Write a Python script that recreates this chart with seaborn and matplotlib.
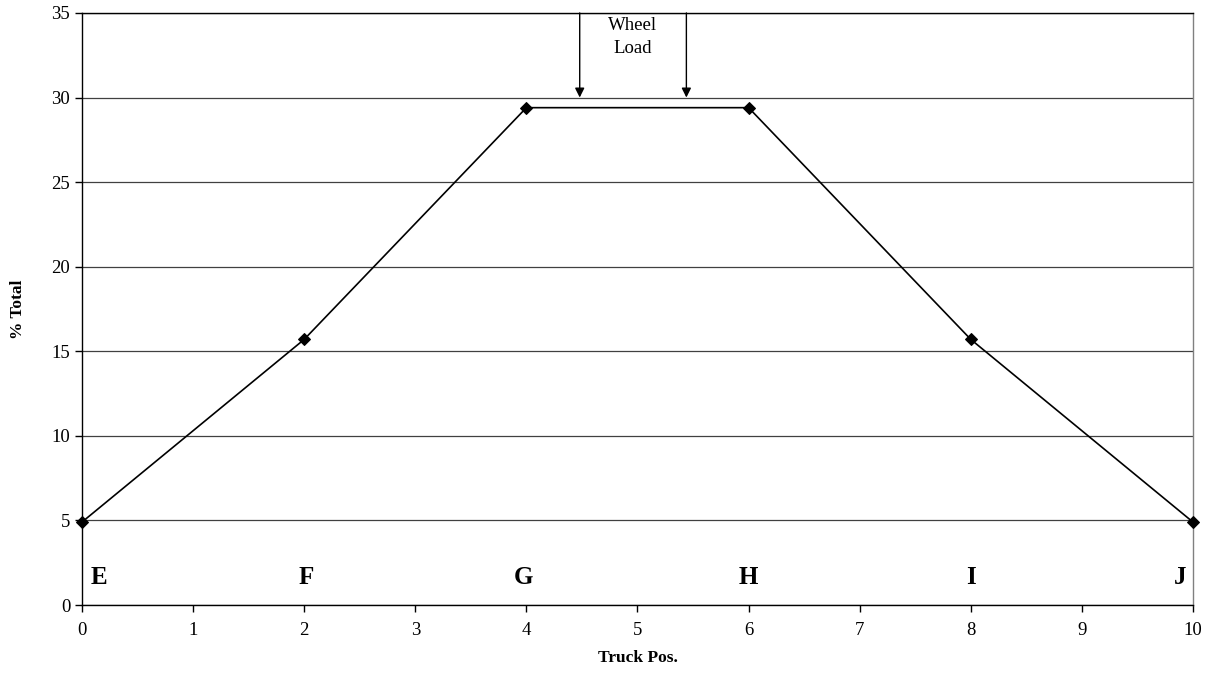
import matplotlib
matplotlib.use("Agg")
import matplotlib.pyplot as plt
import seaborn as sns
import pandas as pd

positions = [0, 2, 4, 6, 8, 10]
pct_total = [4.9, 15.7, 29.4, 29.4, 15.7, 4.9]
labels = ["E", "F", "G", "H", "I", "J"]
label_x = [0.15, 2.02, 3.97, 6.0, 8.0, 9.88]
label_y = 1.65
arrow_x = [4.48, 5.44]

sns.set_style("white")
plt.rcParams['font.family'] = ['Liberation Serif', 'DejaVu Serif']
plt.rcParams['text.color'] = 'black'
plt.rcParams['axes.labelcolor'] = 'black'
plt.rcParams['xtick.color'] = 'black'
plt.rcParams['ytick.color'] = 'black'

df = pd.DataFrame({"Truck Pos.": positions, "% Total": pct_total})

fig = plt.figure(figsize=(12.25, 6.81), dpi=100)
ax = fig.add_axes([0.0669, 0.1116, 0.907, 0.8694])

sns.lineplot(data=df, x="Truck Pos.", y="% Total", ax=ax, color="black",
             marker="D", markersize=6.5, markeredgecolor="black", linewidth=1.2,
             clip_on=False, zorder=5)

ax.set_xlim(0, 10)
ax.set_ylim(0, 35)
ax.set_xticks(range(0, 11))
ax.set_yticks(range(0, 36, 5))
ax.yaxis.grid(True, color="#404040", linewidth=0.9)
ax.set_axisbelow(True)

for s in ["left", "bottom", "top"]:
    ax.spines[s].set_color("black")
    ax.spines[s].set_linewidth(1.0)
ax.spines["right"].set_color("#808080")
ax.spines["right"].set_linewidth(1.0)

ax.tick_params(axis="both", which="both", direction="out", length=5, width=1,
               color="black", labelcolor="black", labelsize=13.5, bottom=True, left=True)
ax.tick_params(axis="x", pad=7)

ax.set_xlabel("Truck Pos.", fontsize=12.5, fontweight="bold", labelpad=8)
ax.set_ylabel("% Total", fontsize=12.5, fontweight="bold", labelpad=18)

for lx, lab in zip(label_x, labels):
    ax.text(lx, label_y, lab, fontsize=18, fontweight="bold", ha="center", va="center")

for axx in arrow_x:
    ax.annotate("", xy=(axx, 30), xytext=(axx, 35),
                arrowprops=dict(arrowstyle="-|>", color="black", lw=1.0,
                                mutation_scale=14, shrinkA=0, shrinkB=0))

ax.text(4.96, 33.6, "Wheel\nLoad", fontsize=13.5, ha="center", va="center", linespacing=1.45)

fig.savefig("out.png", dpi=100)
